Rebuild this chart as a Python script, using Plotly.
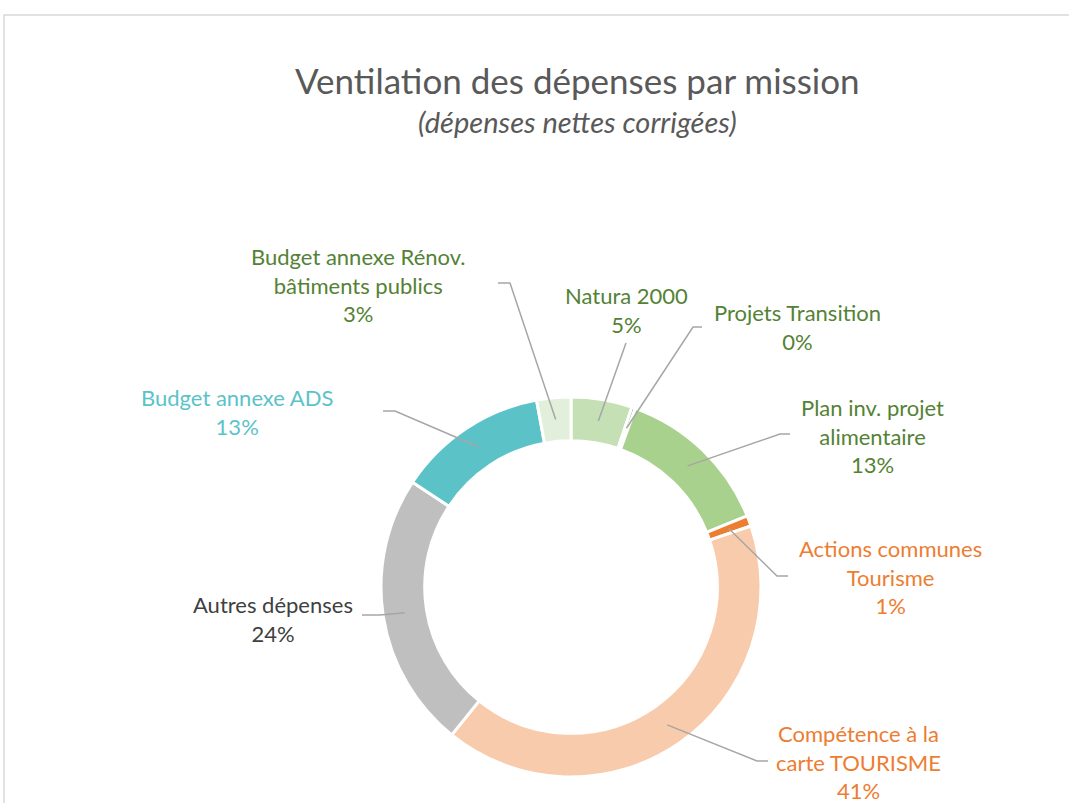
"""Donut chart: ventilation des dépenses par mission."""

import math

import plotly.graph_objects as go

W, H = 1069, 803

labels = [
    "Natura 2000",
    "Projets Transition",
    "Plan inv. projet<br>alimentaire",
    "Actions communes<br>Tourisme",
    "Compétence à la<br>carte TOURISME",
    "Autres dépenses",
    "Budget annexe ADS",
    "Budget annexe Rénov.<br>bâtiments publics",
]
values = [5.2, 0.3, 13.4, 0.9, 41.0, 23.5, 12.8, 2.9]
slice_colors = ["#C5E0B4", "#70AD47", "#A9D18E", "#ED7D31", "#F8CBAD", "#BFBFBF", "#5BC3C8", "#E2EFDA"]
text_colors = ["#548235", "#548235", "#548235", "#ED7D31", "#ED7D31", "#404040", "#5BC3C8", "#548235"]

# label placement (pixels): text centre, elbow start (None = straight line)
label_pos = [(626, 310), (797, 327), (872, 436), (890, 577), (858, 762), (273, 619), (237, 412), (358, 285)]
elbow = [None, (702, 327), (790, 434), (788, 576), (768, 761), (362, 615), (383, 411), (498, 283)]
elbow_mid = [None, (693, 327), (780, 434), (777, 576), (757, 761), (380, 615), (395, 411), (510, 283)]
line_start = [(626, 343), None, None, None, None, None, None, None]

CX, CY, R = 571, 587, 190
HOLE = 0.77
FONT = "Lato"


def px(x, y):
    return x / W, 1 - y / H


fig = go.Figure(
    go.Pie(
        labels=labels,
        values=values,
        sort=False,
        direction="clockwise",
        rotation=0,
        hole=HOLE,
        marker=dict(colors=slice_colors, line=dict(color="white", width=3)),
        textinfo="none",
        hoverinfo="label+percent",
        domain=dict(x=[(CX - R) / W, (CX + R) / W], y=[(H - CY - R) / H, (H - CY + R) / H]),
        showlegend=False,
    )
)

total = sum(values)
cum = 0.0
shapes = []
annotations = []
r_mid = R * (1 + HOLE) / 2
for i, v in enumerate(values):
    theta = 2 * math.pi * (cum + v / 2) / total
    cum += v
    ex, ey = CX + r_mid * math.sin(theta), CY - r_mid * math.cos(theta)
    if elbow[i] is None:
        pts = [line_start[i], (ex, ey)]
    else:
        pts = [elbow[i], elbow_mid[i], (ex, ey)]
    path = "M " + " L ".join(f"{px(*p)[0]:.5f},{px(*p)[1]:.5f}" for p in pts)
    shapes.append(dict(type="path", xref="paper", yref="paper", path=path,
                       line=dict(color="#A6A6A6", width=1.5)))
    pct = f"{round(v / total * 100):.0f}%"
    lx, ly = px(*label_pos[i])
    annotations.append(dict(
        x=lx, y=ly, xref="paper", yref="paper", text=f"{labels[i]}<br>{pct}",
        showarrow=False, align="center", xanchor="center", yanchor="middle",
        font=dict(family=FONT, size=22, color=text_colors[i]),
    ))

for text, y, size in (
    ("Ventilation des dépenses par mission", 80, 35),
    ("<i>(dépenses nettes corrigées)</i>", 122, 29),
):
    tx, ty = px(577, y)
    annotations.append(dict(x=tx, y=ty, xref="paper", yref="paper", text=text, showarrow=False,
                            xanchor="center", yanchor="middle",
                            font=dict(family=FONT, size=size, color="#595959")))

# chart area border
shapes.append(dict(type="rect", xref="paper", yref="paper", x0=4 / W, x1=1.05, y0=-0.05, y1=1 - 15 / H,
                   line=dict(color="#D9D9D9", width=1.5), fillcolor="rgba(0,0,0,0)"))

fig.update_layout(
    width=W,
    height=H,
    margin=dict(l=0, r=0, t=0, b=0),
    paper_bgcolor="white",
    plot_bgcolor="white",
    shapes=shapes,
    annotations=annotations,
)

fig.write_html("out.html", config={"displayModeBar": False},
               post_script="document.body.style.margin = '0';")
